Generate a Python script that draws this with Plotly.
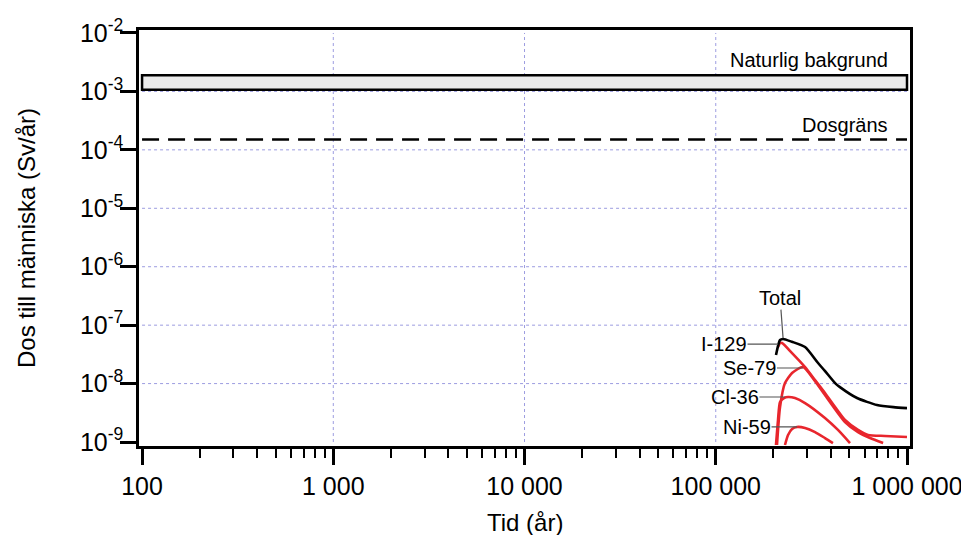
import numpy as np
import plotly.graph_objects as go

# ---------------- data ----------------
total_t = [206500, 216800, 224900, 250000, 293000, 342700, 372000, 420700, 446000, 548000, 697000, 850000, 1000000]
total_d = [3.08e-8, 5.57e-8, 5.8e-8, 5.2e-8, 4.23e-8, 2.25e-8, 1.65e-8, 1.02e-8, 8.7e-9, 5.66e-9, 4.3e-9, 3.95e-9, 3.8e-9]

i129_t = [211600, 216800, 222000, 250600, 293000, 330500, 372500, 420700, 474000, 554500, 625600, 767000, 1000000]
i129_d = [4.23e-8, 4.94e-8, 4.94e-8, 3.33e-8, 1.92e-8, 1.15e-8, 6.9e-9, 3.97e-9, 2.38e-9, 1.61e-9, 1.32e-9, 1.27e-9, 1.22e-9]

se79_t = [209000, 216800, 230100, 250600, 285800, 330500, 372500, 474000, 554500, 641000, 750000]
se79_d = [8.9e-10, 3.97e-9, 1.02e-8, 1.52e-8, 1.92e-8, 1.10e-8, 6.38e-9, 2.2e-9, 1.48e-9, 1.17e-9, 9.6e-10]

cl36_t = [206500, 211600, 216800, 227500, 238800, 259500, 293000, 372500, 435500, 503400]
cl36_d = [8.9e-10, 2.38e-9, 4.84e-9, 5.66e-9, 5.89e-9, 5.66e-9, 4.65e-9, 2.58e-9, 1.61e-9, 9.6e-10]

ni59_t = [230100, 238800, 250600, 266000, 293000, 330500, 372500, 410000]
ni59_d = [8.9e-10, 1.32e-9, 1.67e-9, 1.81e-9, 1.74e-9, 1.48e-9, 1.17e-9, 9.6e-10]

background_range = [1.07e-3, 1.9e-3]
dose_limit = 1.5e-4
time_span = [100, 1000000]

x_tickvals = [100, 1000, 10000, 100000, 1000000]
x_ticktext = ["100", "1 000", "10 000", "100 000", "1 000 000"]
y_tickvals = [1e-2, 1e-3, 1e-4, 1e-5, 1e-6, 1e-7, 1e-8, 1e-9]
y_ticktext = ["10<sup>-%d</sup>" % k for k in range(2, 10)]

# label anchor points (on curves) and label texts
labels = [
    ("Total", 224900, 6.0e-8, -3, -40),
    ("I-129", 211600, 4.75e-8, -54, 0),
    ("Se-79", 285800, 1.85e-8, -53, 0),
    ("Cl-36", 230100, 5.89e-9, -50, 0),
    ("Ni-59", 266000, 1.81e-9, -50, 0),
]

RED = "#e8262d"
FONT = "Liberation Sans, Arial, sans-serif"

fig = go.Figure()

# gridlines (interior decades only)
for v in [1e3, 1e4, 1e5]:
    fig.add_shape(type="line", xref="x", yref="y", x0=v, x1=v, y0=1e-9, y1=1e-2,
                  line=dict(color="#9c9ce0", width=1, dash="dot"), layer="below")
for v in [1e-3, 1e-4, 1e-5, 1e-6, 1e-7, 1e-8]:
    fig.add_shape(type="line", xref="x", yref="y", x0=100, x1=1e6, y0=v, y1=v,
                  line=dict(color="#9c9ce0", width=1, dash="dot"), layer="below")

# natural background box
fig.add_shape(type="rect", xref="x", yref="y", x0=time_span[0], x1=time_span[1],
              y0=background_range[0], y1=background_range[1],
              fillcolor="#ebebeb", line=dict(color="black", width=2.5), layer="above")

# dose limit
fig.add_trace(go.Scatter(x=time_span, y=[dose_limit, dose_limit], mode="lines",
                         line=dict(color="black", width=2.5, dash="17px,9px"),
                         hoverinfo="skip", showlegend=False))

for tt, dd in [(ni59_t, ni59_d), (cl36_t, cl36_d), (se79_t, se79_d), (i129_t, i129_d)]:
    fig.add_trace(go.Scatter(x=tt, y=dd, mode="lines", line=dict(color=RED, width=2.6, shape="spline", smoothing=0.6),
                             showlegend=False, hoverinfo="skip"))
fig.add_trace(go.Scatter(x=total_t, y=total_d, mode="lines", line=dict(color="black", width=2.6, shape="spline", smoothing=0.6),
                         showlegend=False, hoverinfo="skip"))

for text, t, d, ax, ay in labels:
    fig.add_annotation(x=np.log10(t), y=np.log10(d), xref="x", yref="y", text=text,
                       showarrow=True, arrowhead=0, arrowwidth=1.2, arrowcolor="#555555",
                       ax=ax, ay=ay, font=dict(size=20, color="black", family=FONT), borderpad=0)

fig.add_annotation(x=np.log10(time_span[1]) - 0.09, y=np.log10(background_range[1]), xref="x", yref="y",
                   text="Naturlig bakgrund", showarrow=False, xanchor="right", yanchor="bottom",
                   yshift=2, font=dict(size=20, color="black", family=FONT))
fig.add_annotation(x=np.log10(time_span[1]) - 0.09, y=np.log10(dose_limit), xref="x", yref="y",
                   text="Dosgräns", showarrow=False, xanchor="right", yanchor="bottom",
                   yshift=2, font=dict(size=20, color="black", family=FONT))

# axis titles
fig.add_annotation(x=0.5, y=0, xref="paper", yref="paper", yshift=-76, text="Tid (år)",
                   showarrow=False, xanchor="center", yanchor="middle", font=dict(size=24, family=FONT))
fig.add_annotation(x=0, y=0.5, xref="paper", yref="paper", xshift=-113, text="Dos till människa (Sv/år)",
                   textangle=-90, showarrow=False, xanchor="center", yanchor="middle", font=dict(size=24, family=FONT))

fig.update_layout(
    width=961, height=527,
    margin=dict(l=131, r=59, t=22, b=89),
    paper_bgcolor="white", plot_bgcolor="white",
    font=dict(family=FONT, size=24, color="black"),
    showlegend=False,
)
minor_x = [k * 10 ** n for n in range(2, 6) for k in range(2, 10)]
fig.update_xaxes(
    type="log", range=[1.984, 6.0157], automargin=False,
    tickmode="array", tickvals=x_tickvals, ticktext=x_ticktext,
    ticks="outside", ticklen=16, tickwidth=2.5, tickcolor="black",
    showline=True, linewidth=2.5, linecolor="black", mirror=True,
    showgrid=False, zeroline=False,
    minor=dict(tickmode="array", tickvals=minor_x, ticks="outside", ticklen=9, tickwidth=2, tickcolor="black", showgrid=False),
    tickfont=dict(size=25),
)
fig.update_yaxes(
    type="log", range=[-9.068, -1.949], automargin=False,
    tickmode="array", tickvals=y_tickvals, ticktext=y_ticktext,
    ticks="outside", ticklen=16, tickwidth=2.5, tickcolor="black",
    showline=True, linewidth=2.5, linecolor="black", mirror=True,
    showgrid=False, zeroline=False, ticklabelstandoff=-8,
    tickfont=dict(size=25),
)

fig.write_html("out.html")
